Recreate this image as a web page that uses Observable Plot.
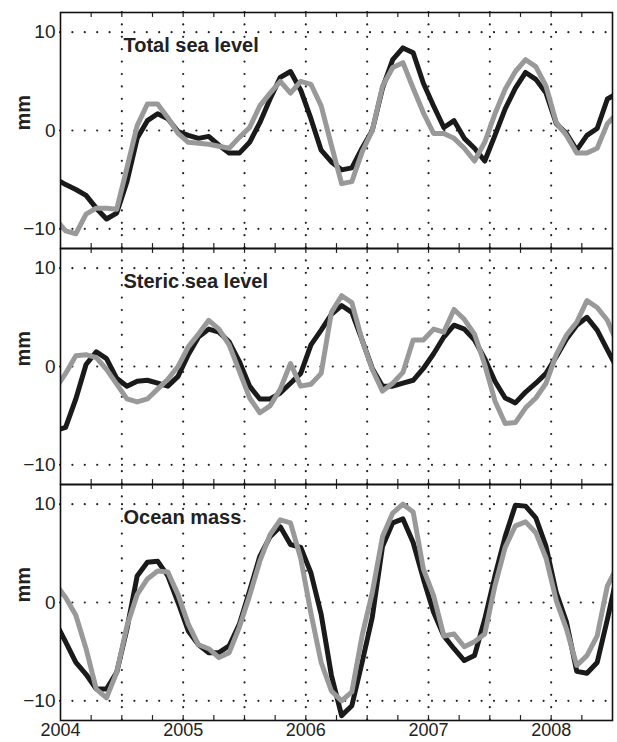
<!DOCTYPE html>
<html><head><meta charset="utf-8">
<script src="https://cdn.jsdelivr.net/npm/d3@7"></script>
<script src="https://cdn.jsdelivr.net/npm/@observablehq/plot@0.6"></script>
<style>body{margin:0;background:#fff}#chart svg{display:block}</style>
</head><body><div id="chart"></div>
<script>
// Panels (facets), top to bottom
const panels = ["Total sea level", "Steric sea level", "Ocean mass"];
// Monthly samples (mid-month), first sample = Dec 2003, last = Jul 2008
const firstMonthOffset = -1;

// Total sea level (mm)
const totalBlack = [-4.9,-5.5,-6.0,-6.6,-7.9,-9.0,-8.4,-5.2,-0.8,1.0,1.7,1.2,-0.1,-0.5,-0.8,-0.6,-1.5,-2.3,-2.3,-1.2,0.8,3.2,5.4,6.0,4.1,1.2,-2.0,-3.2,-4.0,-3.8,-1.8,0.0,4.3,7.2,8.4,7.9,4.8,2.5,0.3,1.0,-0.8,-1.8,-3.1,-0.5,2.2,4.3,5.9,5.2,3.8,0.7,-0.3,-2.0,-0.5,0.2,3.2,3.8];
const totalGray  = [-9.0,-10.2,-10.5,-8.5,-7.9,-7.9,-8.0,-3.8,0.5,2.7,2.7,1.3,-0.3,-1.2,-1.3,-1.4,-1.6,-1.8,-0.7,0.3,2.5,3.8,5.0,3.8,5.0,4.7,2.5,-1.5,-5.4,-5.2,-2.2,0.0,4.5,6.4,6.9,4.3,1.8,-0.3,-0.3,-0.8,-1.8,-3.1,-1.2,1.7,4.2,6.0,7.2,6.5,4.5,0.8,-0.5,-2.3,-2.3,-1.8,0.7,1.8];
// Steric sea level (mm)
const stericBlack = [-6.5,-6.2,-3.3,0.2,1.5,0.8,-1.2,-2.0,-1.5,-1.4,-1.7,-2.0,-1.0,1.2,3.0,3.8,3.5,2.5,0.5,-2.0,-3.3,-3.3,-2.7,-1.7,-0.7,2.2,3.7,5.3,6.2,5.5,2.7,-0.2,-2.0,-2.0,-1.7,-1.4,-0.2,1.3,3.0,4.2,3.8,2.7,0.8,-1.5,-3.2,-3.7,-2.6,-1.7,-0.7,1.0,2.8,4.2,5.0,3.7,1.7,-0.3];
const stericGray  = [-2.3,-0.7,1.1,1.2,0.9,-0.3,-1.8,-3.3,-3.6,-3.3,-2.3,-1.3,0.0,2.0,3.3,4.7,3.8,2.2,-0.5,-3.2,-4.7,-4.0,-2.3,0.3,-2.0,-1.8,-0.7,5.5,7.2,6.5,2.7,-0.3,-2.5,-1.7,-0.6,2.7,2.7,3.8,3.5,5.8,4.8,3.3,0.2,-3.5,-5.8,-5.7,-4.2,-3.2,-1.7,1.2,3.2,4.5,6.7,6.0,4.7,2.3];
// Ocean mass (mm)
const oceanBlack = [-2.0,-4.0,-6.1,-7.3,-8.8,-8.8,-7.1,-2.7,2.7,4.1,4.2,2.7,0.0,-2.9,-4.3,-5.1,-5.1,-4.4,-2.2,1.2,4.7,6.7,7.7,5.9,5.6,3.0,-1.2,-7.4,-11.5,-10.5,-6.1,-1.5,5.7,8.1,8.5,6.1,2.4,-1.0,-3.4,-4.7,-5.9,-5.4,-1.7,2.7,6.7,9.9,9.8,8.6,5.7,1.0,-2.0,-7.0,-7.2,-6.1,-1.7,3.0];
const oceanGray  = [1.9,0.5,-1.3,-4.7,-8.8,-9.7,-7.1,-2.4,0.8,2.4,3.2,3.1,0.8,-2.2,-4.3,-4.7,-5.6,-5.1,-2.5,0.7,4.2,6.9,8.4,8.1,4.5,-1.1,-6.1,-9.0,-10.0,-9.1,-3.4,1.0,6.7,9.1,10.0,9.2,3.4,0.7,-3.4,-3.2,-4.5,-4.0,-3.2,1.7,5.6,7.8,8.2,7.1,4.5,0.2,-2.7,-6.4,-5.4,-3.4,1.7,3.7];

// Axes / ticks
const yearTicks = [2004, 2005, 2006, 2007, 2008];
const halfYearGrid = [2004.5, 2005, 2005.5, 2006, 2006.5, 2007, 2007.5, 2008];
const quarterTicks = [2004.25, 2004.5, 2004.75, 2005, 2005.25, 2005.5, 2005.75, 2006, 2006.25, 2006.5, 2006.75, 2007, 2007.25, 2007.5, 2007.75, 2008, 2008.25];
const yTicks = [-10, 0, 10];
const xDomain = [2004, 2008.5];
const yDomain = [-12, 12];

function rows(panel, values) {
  return values.map((v, k) => ({panel, t: 2004 + (firstMonthOffset + k + 0.5) / 12, v}));
}
const blackRows = [...rows(panels[0], totalBlack), ...rows(panels[1], stericBlack), ...rows(panels[2], oceanBlack)];
const grayRows = [...rows(panels[0], totalGray), ...rows(panels[1], stericGray), ...rows(panels[2], oceanGray)];

const chart = Plot.plot({
  width: 617,
  height: 742,
  marginLeft: 60,
  marginRight: 5,
  marginTop: 11,
  marginBottom: 21,
  style: {fontFamily: "'Liberation Sans', Arial, sans-serif", fontSize: "19px", color: "#222", background: "#fff"},
  x: {domain: xDomain, axis: null},
  y: {domain: yDomain, axis: null},
  fy: {domain: panels, axis: null, padding: 0},
  marks: [
    Plot.gridX(halfYearGrid, {stroke: "#222", strokeOpacity: 1, strokeWidth: 2.2, strokeDasharray: "0,12.4", strokeLinecap: "round"}),
    Plot.gridY(yTicks, {stroke: "#222", strokeOpacity: 1, strokeWidth: 2.2, strokeDasharray: "0,12.4", strokeLinecap: "round"}),
    Plot.ruleX(quarterTicks, {y1: yDomain[1], y2: yDomain[1] - 0.5, stroke: "#222", strokeWidth: 1.2}),
    Plot.ruleX(quarterTicks, {y1: yDomain[0], y2: yDomain[0] + 0.5, stroke: "#222", strokeWidth: 1.2}),
    Plot.line(blackRows, {x: "t", y: "v", fy: "panel", z: "panel", stroke: "#1a1a1a", strokeWidth: 5, clip: true}),
    Plot.line(grayRows, {x: "t", y: "v", fy: "panel", z: "panel", stroke: "#999999", strokeWidth: 5, clip: true}),
    Plot.text(panels, {fy: d => d, text: d => d, frameAnchor: "top-left", dx: 63, dy: 25, lineAnchor: "top", textAnchor: "start", fontWeight: "bold", fontSize: 20, fill: "#222"}),
    Plot.text(["mm"], {text: d => d, frameAnchor: "left", dx: -37, rotate: -90, fontWeight: "bold", fontSize: 20, fill: "#222"}),
    Plot.axisY(yTicks, {tickSize: 0, tickPadding: 5, label: null, fontSize: 19, fill: "#222"}),
    Plot.axisX(yearTicks, {tickSize: 0, tickPadding: 3, tickFormat: "d", label: null, fontSize: 18, fill: "#222"}),
    Plot.frame({stroke: "#111", strokeWidth: 1.6})
  ]
});
document.getElementById("chart").appendChild(chart);
</script>
</body></html>
